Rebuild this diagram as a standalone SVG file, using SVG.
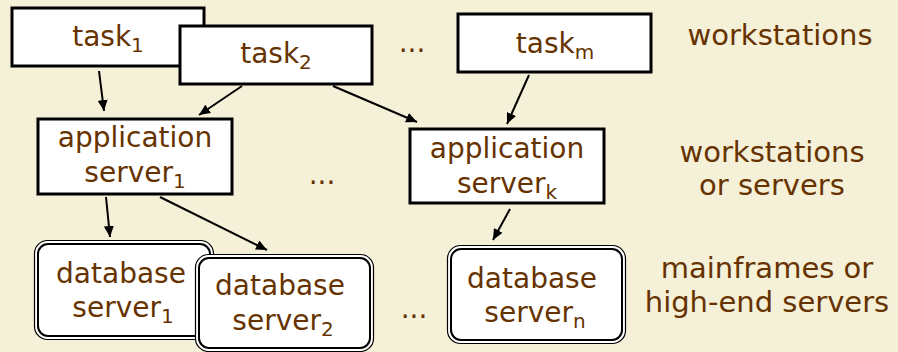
<svg xmlns="http://www.w3.org/2000/svg" width="898" height="352" viewBox="0 0 898 352">
  <style>
    text { font-family: "Comic Sans MS", "DejaVu Sans", sans-serif; fill: #663300; text-anchor: middle; }
    .lbl { font-size: 28px; }
    .side { font-size: 29px; }
    .sub { font-size: 20px; }
    .box { fill: #ffffff; stroke: #000000; stroke-width: 3; }
    .dbo { fill: #ffffff; stroke: #000000; stroke-width: 1.2; }
    .dbi { fill: #ffffff; stroke: #000000; stroke-width: 2; }
    .edge { stroke: #000000; stroke-width: 2; fill: none; marker-end: url(#arrow); }
  </style>
  <defs>
    <marker id="arrow" markerUnits="userSpaceOnUse" markerWidth="12" markerHeight="10" refX="11" refY="5" orient="auto">
      <path d="M0,0 L11,5 L0,10 z" fill="#000000"/>
    </marker>
  </defs>

  <rect width="898" height="352" fill="#F5F0D8"/>

  <!-- connectors -->
  <g id="connectors">
    <line class="edge" x1="99" y1="71" x2="104" y2="111"/>
    <line class="edge" x1="242" y1="86" x2="199" y2="115"/>
    <line class="edge" x1="333" y1="86" x2="417" y2="122"/>
    <line class="edge" x1="529" y1="75" x2="507" y2="124"/>
    <line class="edge" x1="106" y1="197" x2="110" y2="237"/>
    <line class="edge" x1="160" y1="197" x2="267" y2="250"/>
    <line class="edge" x1="510" y1="209" x2="493" y2="240"/>
  </g>

  <!-- workstation tasks -->
  <g id="task1">
    <rect class="box" x="12" y="8" width="192" height="58"/>
    <text class="lbl" x="108" y="46">task<tspan class="sub" dy="6">1</tspan></text>
  </g>
  <g id="task2">
    <rect class="box" x="180" y="26" width="192" height="58"/>
    <text class="lbl" x="276" y="63">task<tspan class="sub" dy="6">2</tspan></text>
  </g>
  <g id="taskm">
    <rect class="box" x="458" y="14" width="193" height="58"/>
    <text class="lbl" x="555" y="53">task<tspan class="sub" dy="6">m</tspan></text>
  </g>

  <!-- application servers -->
  <g id="appserver1">
    <rect class="box" x="38" y="119" width="194" height="75"/>
    <text class="lbl" x="135" y="147">application</text>
    <text class="lbl" x="135" y="182">server<tspan class="sub" dy="6">1</tspan></text>
  </g>
  <g id="appserverk">
    <rect class="box" x="410" y="129" width="194" height="74"/>
    <text class="lbl" x="507" y="158">application</text>
    <text class="lbl" x="507" y="193">server<tspan class="sub" dy="6">k</tspan></text>
  </g>

  <!-- database servers -->
  <g id="dbserver1">
    <rect class="dbo" x="34.5" y="240.5" width="179" height="99" rx="13"/>
    <rect class="dbi" x="38" y="244" width="172" height="92" rx="10"/>
    <text class="lbl" x="121" y="283">database</text>
    <text class="lbl" x="123" y="317">server<tspan class="sub" dy="6">1</tspan></text>
  </g>
  <g id="dbserver2">
    <rect class="dbo" x="195.5" y="254.5" width="178" height="97" rx="13"/>
    <rect class="dbi" x="199" y="258" width="171" height="90" rx="10"/>
    <text class="lbl" x="280" y="295">database</text>
    <text class="lbl" x="283" y="330">server<tspan class="sub" dy="6">2</tspan></text>
  </g>
  <g id="dbservern">
    <rect class="dbo" x="447.5" y="245.5" width="178" height="98" rx="13"/>
    <rect class="dbi" x="451" y="249" width="171" height="91" rx="10"/>
    <text class="lbl" x="532" y="288">database</text>
    <text class="lbl" x="535" y="322">server<tspan class="sub" dy="6">n</tspan></text>
  </g>

  <!-- ellipses between columns -->
  <g id="ellipses">
    <text class="lbl" x="412" y="52">...</text>
    <text class="lbl" x="322" y="184">...</text>
    <text class="lbl" x="414" y="318">...</text>
  </g>

  <!-- tier descriptions -->
  <g id="tier-labels">
    <text class="side" x="780" y="45">workstations</text>
    <text class="side" x="772" y="162">workstations</text>
    <text class="side" x="772" y="195">or servers</text>
    <text class="side" x="767" y="278">mainframes or</text>
    <text class="side" x="767" y="312">high-end servers</text>
  </g>
</svg>
